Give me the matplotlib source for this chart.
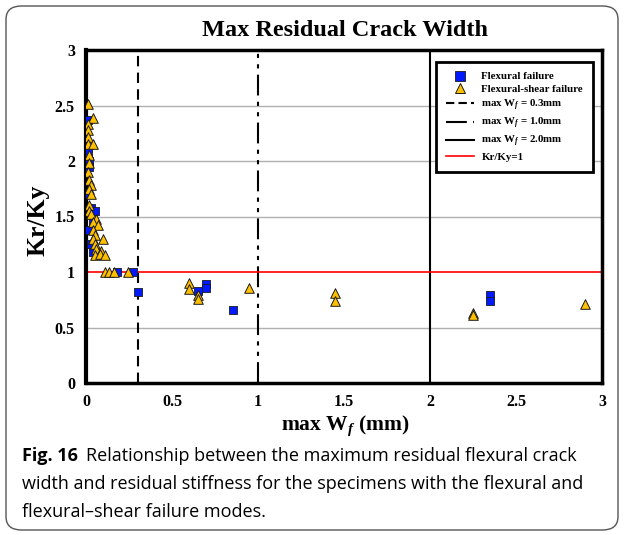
import matplotlib
matplotlib.use("Agg")
import matplotlib.pyplot as plt
from matplotlib.patches import FancyBboxPatch
from matplotlib.lines import Line2D

plt.rcParams["mathtext.fontset"] = "custom"
plt.rcParams["mathtext.rm"] = "Liberation Serif:bold"
plt.rcParams["mathtext.it"] = "Liberation Serif:bold:italic"
plt.rcParams["mathtext.bf"] = "Liberation Serif:bold"

# Flexural failure (blue squares)
flex_x = [0.01, 0.01, 0.02, 0.02, 0.01, 0.03, 0.02, 0.04, 0.03, 0.05, 0.04, 0.07,
          0.18, 0.275, 0.30, 0.65, 0.70, 0.70, 0.855, 2.35, 2.35]
flex_y = [2.37, 2.08, 2.00, 1.95, 1.70, 1.58, 1.38, 1.45, 1.25, 1.55, 1.18, 1.17,
          1.00, 1.00, 0.82, 0.83, 0.89, 0.86, 0.66, 0.79, 0.74]

# Flexural-shear failure (yellow triangles)
fs_x = [0.01, 0.04, 0.01, 0.01, 0.01, 0.01, 0.04, 0.02, 0.02, 0.01, 0.02, 0.03,
        0.02, 0.03, 0.02, 0.02, 0.03, 0.06, 0.04, 0.07, 0.04, 0.05, 0.04, 0.10,
        0.05, 0.06, 0.09, 0.05, 0.08, 0.11, 0.11, 0.135, 0.16, 0.245, 0.60, 0.60,
        0.65, 0.65, 0.95, 1.45, 1.45, 2.25, 2.25, 2.90]
fs_y = [2.51, 2.39, 2.33, 2.28, 2.22, 2.15, 2.15, 2.05, 1.98, 1.90, 1.83, 1.78,
        1.75, 1.70, 1.60, 1.55, 1.52, 1.48, 1.45, 1.42, 1.38, 1.33, 1.30, 1.30,
        1.25, 1.21, 1.19, 1.15, 1.16, 1.15, 1.00, 1.00, 1.00, 1.00, 0.90, 0.85,
        0.79, 0.76, 0.86, 0.81, 0.74, 0.63, 0.61, 0.71]

x_ticks = [0, 0.5, 1, 1.5, 2, 2.5, 3]
x_tick_labels = ["0", "0.5", "1", "1.5", "2", "2.5", "3"]
y_ticks = [0, 0.5, 1, 1.5, 2, 2.5, 3]
y_tick_labels = ["0", "0.5", "1", "1.5", "2", "2.5", "3"]

limits_w = [0.3, 1.0, 2.0]
ratio_line = 1.0

serif = "Liberation Serif"

fig = plt.figure(figsize=(6.24, 5.35), dpi=100)
fig.patch.set_facecolor("white")

# rounded outer frame
frame = FancyBboxPatch((6 / 624, 5 / 535), 612 / 624, 524 / 535,
                       boxstyle="round,pad=0,rounding_size=0.025",
                       transform=fig.transFigure, facecolor="none",
                       edgecolor="#555555", linewidth=1.0)
fig.patches.append(frame)

ax = fig.add_axes([86 / 624, 1 - 383 / 535, 516 / 624, 333 / 535])
ax.set_xlim(0, 3)
ax.set_ylim(0, 3)

for yv in [0.5, 1.5, 2.0, 2.5]:
    ax.axhline(yv, color="#b0b0b0", linewidth=1.0, zorder=1)

dash_03 = (0, (5, 3))
dash_10 = (0, (10, 3, 2, 3, 2, 3))
ax.axvline(limits_w[0], color="black", linestyle=dash_03, linewidth=1.5, zorder=2)
ax.axvline(limits_w[1], color="black", linestyle=dash_10, linewidth=1.5, zorder=2)
ax.axvline(limits_w[2], color="black", linestyle="-", linewidth=1.5, zorder=2)
ax.axhline(ratio_line, color="red", linewidth=1.2, zorder=2)

ax.scatter(flex_x, flex_y, marker="s", s=36, facecolor="#0019ff",
           edgecolor="#1a1a1a", linewidth=0.6, zorder=4)
ax.scatter(fs_x, fs_y, marker="^", s=48, facecolor="#ffc000",
           edgecolor="#1a1a1a", linewidth=0.7, zorder=5)

ax.set_xticks(x_ticks)
ax.set_xticklabels(x_tick_labels)
ax.set_yticks(y_ticks)
ax.set_yticklabels(y_tick_labels)
ax.tick_params(length=0, pad=8)
for lab in ax.get_xticklabels() + ax.get_yticklabels():
    lab.set_fontfamily(serif)
    lab.set_fontweight("bold")
    lab.set_fontsize(11.5)

for s in ax.spines.values():
    s.set_linewidth(2.5)
ax.spines["left"].set_linewidth(3.0)

fig.text(345 / 624, 1 - 426 / 535, r"max $\mathbf{W}_{\mathit{f}}$ (mm)", ha="center",
         va="center", fontfamily=serif, fontweight="bold", fontsize=15.5)
fig.text(38 / 624, 1 - 220 / 535, "Kr/Ky", ha="center", va="center", rotation=90,
         fontfamily=serif, fontweight="bold", fontsize=18.5)

fig.text(345 / 624, 1 - 30 / 535, "Max Residual Crack Width", ha="center", va="center",
         fontfamily=serif, fontweight="bold", fontsize=17.5)

handles = [
    Line2D([], [], marker="s", linestyle="none", markersize=7, markerfacecolor="#0019ff",
           markeredgecolor="#1a1a1a", markeredgewidth=0.6),
    Line2D([], [], marker="^", linestyle="none", markersize=7, markerfacecolor="#ffc000",
           markeredgecolor="#1a1a1a", markeredgewidth=0.7),
    Line2D([], [], color="black", linestyle=(0, (4, 2)), linewidth=1.5),
    Line2D([], [], color="black", linestyle=(0, (10, 3, 2, 3, 2, 3)), linewidth=1.5),
    Line2D([], [], color="black", linestyle="-", linewidth=1.5),
    Line2D([], [], color="red", linestyle="-", linewidth=1.2),
]
labels = ["Flexural failure", "Flexural-shear failure",
          r"max W$_f$ = 0.3mm", r"max W$_f$ = 1.0mm", r"max W$_f$ = 2.0mm", "Kr/Ky=1"]
leg = ax.legend(handles, labels, loc="upper right", bbox_to_anchor=(0.9925, 0.98),
                prop={"family": serif, "weight": "bold", "size": 7.8},
                frameon=True, fancybox=False, edgecolor="black", handlelength=2.6,
                borderpad=0.9, labelspacing=0.3, handletextpad=0.7, borderaxespad=0.5)
leg.get_frame().set_linewidth(2.0)
leg.get_frame().set_facecolor("white")
leg.get_frame().set_alpha(1)

cap_font = "Open Sans"
cap_size = 13.0
t_fig = fig.text(22 / 624, 1 - 456 / 535, "Fig. 16", fontfamily=cap_font, fontweight="bold",
                 fontsize=cap_size, va="center", ha="left")
fig.canvas.draw()
bb = t_fig.get_window_extent(renderer=fig.canvas.get_renderer())
x_rel = (bb.x1 + 8) / fig.bbox.width
fig.text(x_rel, 1 - 456 / 535, "Relationship between the maximum residual flexural crack",
         fontfamily=cap_font, fontsize=cap_size, va="center", ha="left")
fig.text(22 / 624, 1 - 484 / 535, "width and residual stiffness for the specimens with the flexural and",
         fontfamily=cap_font, fontsize=cap_size, va="center", ha="left")
fig.text(22 / 624, 1 - 512 / 535, "flexural\u2013shear failure modes.",
         fontfamily=cap_font, fontsize=cap_size, va="center", ha="left")

fig.savefig("out.png", dpi=100)
